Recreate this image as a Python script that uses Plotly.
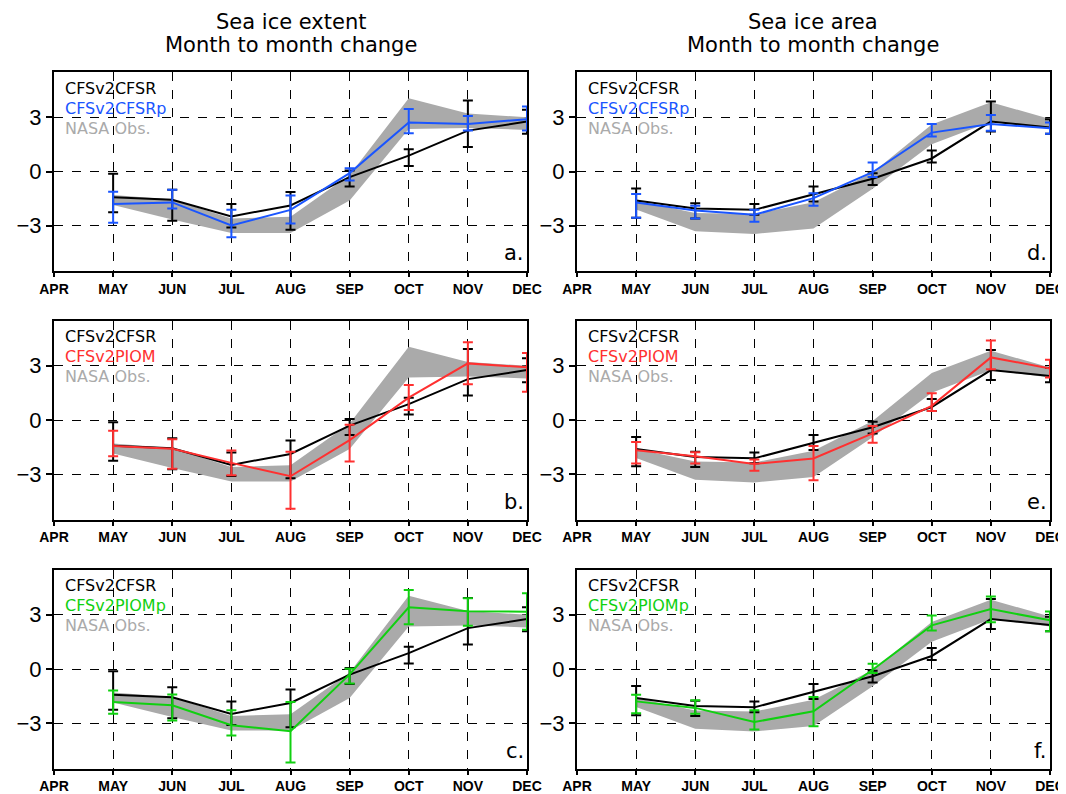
import plotly.graph_objects as go

# ---------------- data ----------------
months = ["APR", "MAY", "JUN", "JUL", "AUG", "SEP", "OCT", "NOV", "DEC"]
data_months = ["MAY", "JUN", "JUL", "AUG", "SEP", "OCT", "NOV", "DEC"]
yticks = [-3, 0, 3]
ytick_text = ["\u22123", "0", "3"]

# Sea ice extent
cfsr_ext = [-1.42, -1.56, -2.48, -1.88, -0.31, 0.88, 2.26, 2.76]
cfsr_ext_hi = [-0.13, -1.01, -1.80, -1.14, 0.05, 1.23, 3.92, 3.41]
cfsr_ext_lo = [-2.25, -2.72, -3.10, -3.22, -0.83, 0.31, 1.36, 2.08]

cfsrp_ext = [-1.79, -1.71, -2.98, -2.12, -0.09, 2.71, 2.63, 2.89]
cfsrp_ext_hi = [-1.12, -1.01, -2.12, -1.33, 0.18, 3.46, 3.07, 3.59]
cfsrp_ext_lo = [-2.83, -2.04, -3.64, -2.87, -0.50, 2.12, 2.26, 2.26]

piom_ext = [-1.44, -1.59, -2.37, -3.11, -1.11, 1.24, 3.13, 2.91]
piom_ext_hi = [-0.59, -1.07, -1.69, -1.75, -0.26, 1.93, 4.30, 3.70]
piom_ext_lo = [-2.00, -2.70, -3.06, -4.91, -2.30, 0.55, 1.98, 1.56]

piomp_ext = [-1.83, -2.00, -3.11, -3.44, -0.30, 3.41, 3.19, 3.17]
piomp_ext_hi = [-1.19, -1.41, -2.28, -1.83, 0.02, 4.37, 3.91, 4.19]
piomp_ext_lo = [-2.48, -2.85, -3.67, -5.17, -0.80, 2.48, 2.39, 2.17]

obs_ext_hi = [-1.30, -1.55, -2.60, -2.50, -0.20, 4.05, 3.20, 3.00]
obs_ext_lo = [-1.85, -2.65, -3.40, -3.40, -1.60, 2.35, 2.40, 2.30]

# Sea ice area
cfsr_area = [-1.60, -2.04, -2.12, -1.25, -0.40, 0.72, 2.76, 2.43]
cfsr_area_hi = [-0.94, -1.75, -1.80, -0.83, -0.09, 1.16, 3.87, 2.89]
cfsr_area_lo = [-2.56, -2.60, -2.39, -1.66, -0.74, 0.50, 2.21, 2.08]

cfsrp_area = [-1.71, -2.15, -2.39, -1.47, -0.04, 2.15, 2.63, 2.39]
cfsrp_area_hi = [-1.25, -1.90, -2.12, -1.20, 0.50, 2.63, 3.13, 2.71]
cfsrp_area_lo = [-2.56, -2.60, -2.78, -1.90, -0.30, 1.93, 2.25, 2.08]

piom_area = [-1.67, -2.00, -2.43, -2.13, -0.74, 0.78, 3.46, 2.85]
piom_area_hi = [-1.22, -1.78, -2.19, -1.44, -0.33, 1.48, 4.39, 3.33]
piom_area_lo = [-2.41, -2.41, -2.80, -3.33, -1.26, 0.50, 2.81, 2.35]

piomp_area = [-1.79, -2.15, -2.93, -2.34, -0.04, 2.41, 3.31, 2.69]
piomp_area_hi = [-1.43, -1.73, -2.28, -1.55, 0.29, 2.96, 4.01, 3.18]
piomp_area_lo = [-2.44, -2.47, -3.35, -3.17, -0.22, 2.13, 2.58, 2.08]

obs_area_hi = [-1.60, -2.30, -2.35, -1.70, -0.06, 2.60, 3.83, 2.90]
obs_area_lo = [-2.10, -3.30, -3.45, -3.15, -0.95, 1.50, 2.75, 2.35]

title_line1 = ["Sea ice extent", "Sea ice area"]
title_line2 = ["Month to month change", "Month to month change"]

BLACK = "#000000"
BLUE = "#1a55ff"
RED = "#ff3030"
GREEN = "#10d010"
GREY = "#aaaaaa"
FONT = "DejaVu Sans"
TICKFONT = "Liberation Sans"

panels = [
    (0, 0, "a.", obs_ext_hi, obs_ext_lo, cfsr_ext, cfsr_ext_hi, cfsr_ext_lo,
     cfsrp_ext, cfsrp_ext_hi, cfsrp_ext_lo, "CFSv2CFSRp", BLUE),
    (0, 1, "b.", obs_ext_hi, obs_ext_lo, cfsr_ext, cfsr_ext_hi, cfsr_ext_lo,
     piom_ext, piom_ext_hi, piom_ext_lo, "CFSv2PIOM", RED),
    (0, 2, "c.", obs_ext_hi, obs_ext_lo, cfsr_ext, cfsr_ext_hi, cfsr_ext_lo,
     piomp_ext, piomp_ext_hi, piomp_ext_lo, "CFSv2PIOMp", GREEN),
    (1, 0, "d.", obs_area_hi, obs_area_lo, cfsr_area, cfsr_area_hi, cfsr_area_lo,
     cfsrp_area, cfsrp_area_hi, cfsrp_area_lo, "CFSv2CFSRp", BLUE),
    (1, 1, "e.", obs_area_hi, obs_area_lo, cfsr_area, cfsr_area_hi, cfsr_area_lo,
     piom_area, piom_area_hi, piom_area_lo, "CFSv2PIOM", RED),
    (1, 2, "f.", obs_area_hi, obs_area_lo, cfsr_area, cfsr_area_hi, cfsr_area_lo,
     piomp_area, piomp_area_hi, piomp_area_lo, "CFSv2PIOMp", GREEN),
]

W, H = 1066, 794
OFF = 8  # page body margin of the html page
xdoms = [[(54 - OFF) / W, (527 - OFF) / W], [(577 - OFF) / W, (1050 - OFF) / W]]
row_tops = [72 - OFF, 320.5 - OFF, 569.5 - OFF]
row_h = 199

fig = go.Figure()
xpos = {m: i for i, m in enumerate(months)}
xd = [xpos[m] for m in data_months]

layout = {}
annotations = []
for k, (col, row, lab, ohi, olo, bv, bhi, blo, mv, mhi, mlo, mname, mcol) in enumerate(panels):
    idx = k + 1
    xa = "x" if idx == 1 else f"x{idx}"
    ya = "y" if idx == 1 else f"y{idx}"
    xkey = "xaxis" if idx == 1 else f"xaxis{idx}"
    ykey = "yaxis" if idx == 1 else f"yaxis{idx}"
    top = row_tops[row]
    ydom = [1 - (top + row_h) / H, 1 - top / H]

    fig.add_trace(go.Scatter(
        x=xd + xd[::-1], y=ohi + olo[::-1], fill="toself", fillcolor=GREY,
        line=dict(width=0, color=GREY), mode="lines", xaxis=xa, yaxis=ya,
        showlegend=False, hoverinfo="skip"))
    fig.add_trace(go.Scatter(
        x=xd, y=bv, mode="lines", line=dict(color=BLACK, width=2),
        error_y=dict(type="data", symmetric=False,
                     array=[h - v for h, v in zip(bhi, bv)],
                     arrayminus=[v - l for l, v in zip(blo, bv)],
                     color=BLACK, thickness=2, width=5),
        xaxis=xa, yaxis=ya, showlegend=False))
    fig.add_trace(go.Scatter(
        x=xd, y=mv, mode="lines", line=dict(color=mcol, width=2),
        error_y=dict(type="data", symmetric=False,
                     array=[h - v for h, v in zip(mhi, mv)],
                     arrayminus=[v - l for l, v in zip(mlo, mv)],
                     color=mcol, thickness=2, width=5),
        xaxis=xa, yaxis=ya, showlegend=False))

    layout[xkey] = dict(
        domain=xdoms[col], anchor=ya, range=[0, 8], automargin=False,
        tickmode="array", tickvals=list(range(len(months))),
        ticktext=[f"<b>{m}</b>" for m in months],
        tickfont=dict(family=TICKFONT, size=14, color="black"),
        ticklabeloverflow="allow",
        showgrid=True, gridcolor="black", griddash="dash", gridwidth=1,
        zeroline=False, showline=True, linecolor="black", linewidth=2, mirror=True,
        ticks="outside", ticklen=4, tickcolor="black", tickwidth=1.5)
    layout[ykey] = dict(
        domain=ydom, anchor=xa, range=[-5.5, 5.5], automargin=False,
        tickmode="array", tickvals=yticks, ticktext=ytick_text,
        tickfont=dict(family=TICKFONT, size=22, color="black"),
        ticklabeloverflow="allow",
        showgrid=True, gridcolor="black", griddash="dash", gridwidth=1,
        zeroline=False, showline=True, linecolor="black", linewidth=2, mirror=True,
        ticks="outside", ticklen=6, tickcolor="black", tickwidth=1.5)

    for j, (txt, c) in enumerate([("CFSv2CFSR", BLACK), (mname, mcol), ("NASA Obs.", GREY)]):
        annotations.append(dict(
            xref=f"{xa} domain", yref=f"{ya} domain", x=0.018, y=0.918 - j * 0.1,
            xanchor="left", yanchor="middle", text=txt, showarrow=False,
            font=dict(family=FONT, size=16, color=c)))
    annotations.append(dict(
        xref=f"{xa} domain", yref=f"{ya} domain", x=0.997, y=0.09,
        xanchor="right", yanchor="middle", text=lab, showarrow=False,
        font=dict(family=FONT, size=21, color="black")))

for col in range(2):
    cx = sum(xdoms[col]) / 2
    annotations.append(dict(
        xref="paper", yref="paper", x=cx, y=1.0,
        xanchor="center", yanchor="top", text=title_line1[col], showarrow=False,
        font=dict(family=FONT, size=21, color="black")))
    annotations.append(dict(
        xref="paper", yref="paper", x=cx, y=1 - (45 - OFF) / H,
        xanchor="center", yanchor="middle", text=title_line2[col], showarrow=False,
        font=dict(family=FONT, size=21, color="black")))

fig.update_layout(
    width=W, height=H, margin=dict(l=0, r=0, t=0, b=0, autoexpand=False),
    paper_bgcolor="white", plot_bgcolor="white",
    annotations=annotations, **layout)

fig.write_html("out.html")
